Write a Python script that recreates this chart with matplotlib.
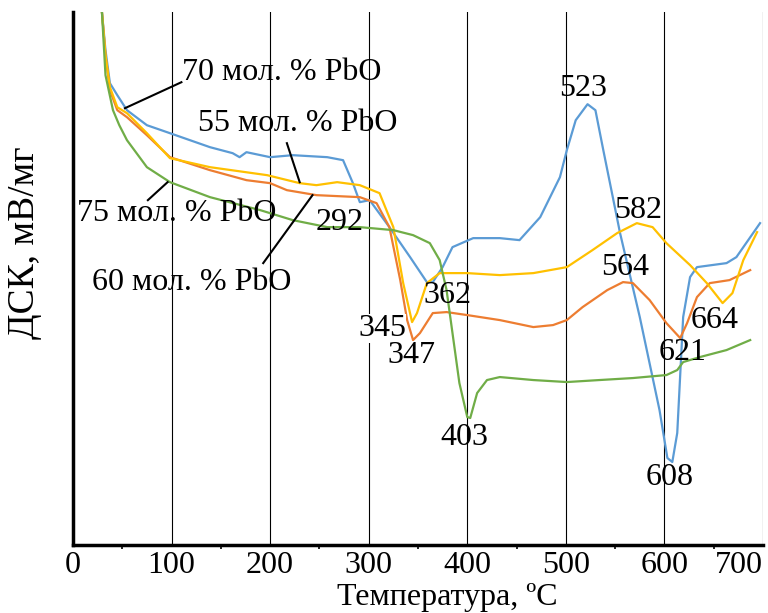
import matplotlib
matplotlib.use("Agg")
import matplotlib.pyplot as plt

plt.rcParams['font.family'] = ['Liberation Serif', 'DejaVu Serif']

# temperature (C) and DSC signal (arbitrary units)
t_70 = [27, 29.4, 33, 37.5, 45, 54.8, 75, 98.4, 139, 162, 169, 176, 200, 223, 258, 274, 284,
        291, 301, 321, 342, 359, 365, 375, 385, 406, 433, 453, 474, 494, 501, 510, 522, 530,
        538, 555, 575, 595, 603, 608, 613, 619, 626, 633, 663, 673, 697]
y_70 = [5.6, 5.33, 4.95, 4.62, 4.5, 4.35, 4.2, 4.12, 3.98, 3.92, 3.88, 3.93, 3.88, 3.90, 3.88,
        3.85, 3.62, 3.43, 3.45, 3.18, 2.88, 2.63, 2.63, 2.78, 2.98, 3.07, 3.07, 3.05, 3.28,
        3.68, 3.95, 4.25, 4.41, 4.35, 3.95, 3.12, 2.28, 1.35, 0.87, 0.83, 1.12, 2.28, 2.68,
        2.78, 2.82, 2.88, 3.22]

t_60 = [27, 29.4, 33, 37.5, 45, 54.8, 75, 98.4, 139, 176, 200, 217, 247, 291, 308, 321, 332,
        339, 345, 352, 365, 379, 400, 433, 467, 487, 501, 517, 542, 558, 568, 585, 602, 616,
        623, 633, 646, 666, 687]
y_60 = [5.6, 5.33, 4.9, 4.55, 4.35, 4.28, 4.1, 3.88, 3.75, 3.65, 3.62, 3.55, 3.50, 3.48, 3.42,
        3.18, 2.65, 2.25, 2.05, 2.12, 2.32, 2.33, 2.30, 2.25, 2.18, 2.20, 2.25, 2.38, 2.55,
        2.63, 2.62, 2.45, 2.22, 2.07, 2.22, 2.48, 2.62, 2.65, 2.75]

t_55 = [27, 29.4, 33, 37.5, 45, 54.8, 75, 98.4, 139, 197, 230, 247, 268, 291, 311, 325, 335,
        344, 349, 359, 372, 400, 433, 467, 501, 527, 552, 572, 588, 602, 626, 643, 659, 669,
        680, 694]
y_55 = [5.6, 5.33, 4.9, 4.58, 4.38, 4.32, 4.12, 3.87, 3.78, 3.70, 3.62, 3.60, 3.63, 3.60, 3.52,
        3.18, 2.62, 2.23, 2.32, 2.62, 2.72, 2.72, 2.70, 2.72, 2.78, 2.95, 3.12, 3.22, 3.18,
        3.02, 2.80, 2.62, 2.42, 2.52, 2.85, 3.13]

t_75 = [27, 29.4, 33, 40.6, 47, 54.8, 75, 98.4, 139, 190, 223, 258, 291, 325, 345, 362, 372,
        379, 385, 392, 400, 403, 410, 420, 433, 467, 501, 534, 568, 602, 613, 619, 636, 663,
        687]
y_75 = [5.6, 5.33, 4.7, 4.35, 4.2, 4.05, 3.78, 3.63, 3.48, 3.35, 3.25, 3.18, 3.18, 3.15, 3.10,
        3.02, 2.85, 2.55, 2.12, 1.62, 1.28, 1.27, 1.52, 1.65, 1.68, 1.65, 1.63, 1.65, 1.67,
        1.70, 1.75, 1.83, 1.88, 1.95, 2.05]

series = [
    (t_70, y_70, '#5b9bd5'),
    (t_60, y_60, '#ed7d31'),
    (t_55, y_55, '#ffc000'),
    (t_75, y_75, '#70ad47'),
]

x_ticks = [0, 100, 200, 300, 400, 500, 600, 700]
x_minor = [50, 150, 250, 350, 450, 550, 650]

FS = 23

fig = plt.figure(figsize=(7.68, 6.13), dpi=100)
ax = fig.add_axes([0.095, 0.111, 0.8985, 0.869])

for t, y, c in series:
    ax.plot(t, y, color=c, lw=1.6, solid_joinstyle='round')

ax.set_xlim(0, 700)
ax.set_ylim(0, 5.33)
ax.set_xticks(x_ticks)
ax.set_xticks(x_minor, minor=True)
ax.set_yticks([])
for xv in x_ticks[1:]:
    ax.axvline(xv, color='black', lw=0.8, zorder=0)

for s in ['top', 'right']:
    ax.spines[s].set_visible(False)
ax.spines['left'].set_linewidth(2.5)
ax.spines['bottom'].set_linewidth(2.5)
ax.tick_params(axis='x', which='major', length=0, pad=4, labelsize=FS)
ax.tick_params(axis='x', which='minor', length=3, width=1.2, direction='out')
ax.get_xticklabels()[-1].set_horizontalalignment('right')

ax.set_xlabel('Температура, ºC', fontsize=FS)
ax.xaxis.set_label_coords(0.542, -0.113)
ax.xaxis.label.set_va('baseline')

ax.set_ylabel('ДСК, мВ/мг', fontsize=27)
ax.yaxis.set_label_coords(-0.07, 0.567)
ax.yaxis.label.set_rotation_mode('default')
ax.yaxis.label.set_va('center')

# peak labels
peaks = [('523', 518, 4.57), ('582', 573, 3.35), ('564', 560, 2.78), ('362', 380, 2.5),
         ('345', 314, 2.17), ('347', 343, 1.9), ('403', 397, 1.08), ('608', 605, 0.67),
         ('621', 618, 1.93), ('664', 651, 2.25), ('292', 271, 3.23)]
for txt, px, py in peaks:
    t = ax.text(px, py, txt, fontsize=FS, ha='center', va='center', zorder=5)
    if txt in ('345', '347'):
        t.set_bbox(dict(facecolor='white', edgecolor='none', pad=0))

# composition labels with leader lines
labels = [('70 мол. % PbO', 111, 4.73, (52.7, 4.37), (110, 4.63)),
          ('55 мол. % PbO', 127, 4.22, (217, 4.02), (230, 3.63)),
          ('75 мол. % PbO', 4, 3.32, (76, 3.45), (96, 3.63)),
          ('60 мол. % PbO', 19, 2.63, (193, 2.82), (243, 3.50))]
for txt, px, py, p0, p1 in labels:
    ax.text(px, py, txt, fontsize=FS, ha='left', va='center', zorder=5)
    ax.plot([p0[0], p1[0]], [p0[1], p1[1]], color='black', lw=1.5, zorder=4)

fig.savefig('out.png', dpi=100)
